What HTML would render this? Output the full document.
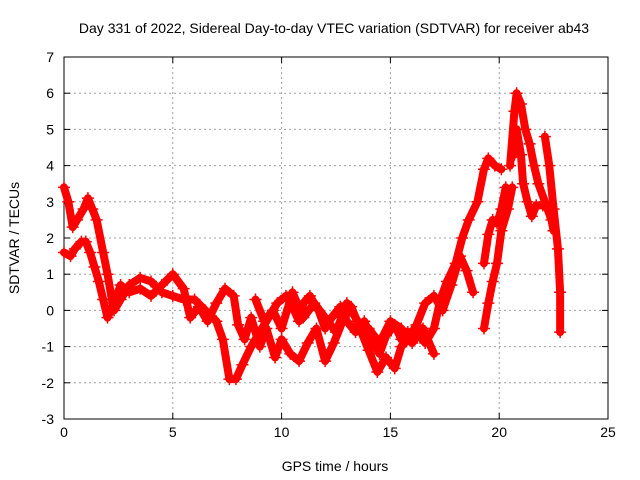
<!DOCTYPE html>
<html><head><meta charset="utf-8"><style>
body{margin:0;background:#fff;}
svg{display:block;font-family:"Liberation Sans",sans-serif;}
</style></head><body>
<svg id="chart" width="640" height="480" viewBox="0 0 640 480">
<text x="334" y="33" font-size="14" text-anchor="middle">Day 331 of 2022, Sidereal Day-to-day VTEC variation (SDTVAR) for receiver ab43</text>
<text x="335" y="471" font-size="14" text-anchor="middle">GPS time / hours</text>
<text transform="translate(19,238) rotate(-90)" font-size="14" text-anchor="middle">SDTVAR / TECUs</text>
<g id="grid"></g>
<g id="axes"></g>
<g id="series"></g>
</svg>
<script>
const xTicks=[0,5,10,15,20,25];
const yTicks=[-3,-2,-1,0,1,2,3,4,5,6,7];
const trackA=[[0,3.4],[0.2,3.0],[0.4,2.3],[0.6,2.5],[0.9,2.8],[1.1,3.1],[1.3,2.8],[1.5,2.5],[1.8,1.6],[2.0,1.0],[2.2,0.3],[2.3,0.0],[2.6,0.3],[3.0,0.7],[3.5,0.9],[4.0,0.8],[4.5,0.5],[5.0,0.4],[5.5,0.3],[6.0,0.3],[6.5,0.0],[7.0,-0.3],[7.3,-0.8],[7.6,-1.9],[7.9,-1.9],[8.2,-1.5],[8.6,-1.0],[9.0,-0.6],[9.4,-0.2],[9.8,0.2],[10.2,0.4],[10.5,0.1],[10.8,-0.3],[11.0,0.2],[11.3,0.4],[11.7,0.0],[12.0,-0.5],[12.3,-0.2],[12.7,0.1],[13.0,-0.3],[13.4,-0.6],[13.8,-0.3],[14.2,-0.9],[14.5,-1.2],[14.8,-0.7],[15.2,-0.4],[15.5,-0.8],[15.8,-0.6],[16.2,-0.6],[16.6,-0.9],[17.0,-0.5],[17.3,0.3],[17.6,0.8],[18.0,1.3],[18.3,2.0],[18.6,2.5],[19.0,3.0],[19.3,3.9],[19.5,4.2],[19.8,4.0],[20.1,3.9]];
const trackB=[[0,1.6],[0.3,1.5],[0.5,1.7],[0.8,1.9],[1.0,1.9],[1.2,1.6],[1.4,1.2],[1.6,0.8],[1.8,0.3],[2.0,-0.2],[2.3,0.2],[2.6,0.7],[3.0,0.5],[3.5,0.6],[4.0,0.4],[4.5,0.7],[5.0,1.0],[5.5,0.6],[5.8,-0.2],[6.2,0.1],[6.6,-0.3],[7.0,0.2],[7.4,0.6],[7.8,0.4],[8.0,-0.4],[8.3,-0.8],[8.6,-0.2],[9.0,-1.0],[9.3,-0.5],[9.7,-1.3],[10.0,-0.8],[10.4,-1.2],[10.8,-1.4],[11.2,-0.9],[11.6,-0.5],[12.0,-1.4],[12.4,-0.9],[12.8,-0.3],[13.2,0.1],[13.6,-0.5],[14.0,-1.1],[14.4,-1.7],[14.8,-1.3],[15.2,-1.6],[15.5,-1.0],[15.8,-0.8],[16.2,-0.4],[16.6,0.2],[17.0,0.4],[17.4,0.0],[17.8,0.7],[18.2,1.5],[18.5,1.1],[18.8,0.5]];
const trackC=[[19.3,-0.5],[19.5,0.2],[19.7,0.8],[19.9,1.3],[20.1,2.2],[20.4,2.8],[20.6,3.4]];
const trackD=[[19.3,1.3],[19.5,2.1],[19.7,2.5],[19.9,2.4],[20.1,2.8],[20.3,3.4]];
const trackE=[[20.5,4.0],[20.7,5.5],[20.8,6.0],[21.0,5.7],[21.2,5.0],[21.4,4.6],[21.6,4.0],[21.8,3.5],[22.1,3.0],[22.4,2.5],[22.5,2.2]];
const trackF=[[20.7,4.3],[20.8,5.0],[21.0,4.3],[21.1,3.5],[21.3,3.0],[21.5,2.6],[21.7,2.9],[22.0,2.9]];
const trackG=[[22.1,4.8],[22.3,4.0],[22.5,2.8],[22.7,1.7],[22.8,0.5],[22.8,-0.6]];
const trackH=[[8.8,0.3],[9.2,-0.3],[9.6,0.0],[10.0,-0.5],[10.5,0.5],[11.0,-0.2],[11.5,0.2],[12.0,-0.2],[12.5,-0.6],[13.0,0.2],[13.5,-0.3],[14.0,-0.5],[14.5,-0.9],[15.0,-0.3],[15.5,-0.5],[16.0,-0.9],[16.5,-0.5],[17.0,-1.2]];
const tracks=[trackA,trackB,trackC,trackD,trackE,trackF,trackG,trackH];

const L=64,R=608,T=57,B=419;
const xs=v=>L+(v-0)/25*(R-L);
const ys=v=>B-(v+3)/10*(B-T);
const NS="http://www.w3.org/2000/svg";
function mk(tag,attrs,parent){const e=document.createElementNS(NS,tag);for(const k in attrs)e.setAttribute(k,attrs[k]);parent.appendChild(e);return e;}
const grid=document.getElementById('grid'),axes=document.getElementById('axes'),ser=document.getElementById('series');
xTicks.forEach(t=>{const x=xs(t);
 if(t>0&&t<25){const g=mk('line',{x1:x,x2:x,y1:T,y2:B,stroke:'#a0a0a0','stroke-dasharray':'2,3'},grid);
 
 }
 mk('line',{x1:x,x2:x,y1:B,y2:B-6,stroke:'#000'},axes);mk('line',{x1:x,x2:x,y1:T,y2:T+6,stroke:'#000'},axes);
 const l=mk('text',{x:x,y:B+18,'font-size':14,'text-anchor':'middle'},axes);l.textContent=t;
 
 });
yTicks.forEach(t=>{const y=ys(t);
 if(t>-3&&t<7){const g=mk('line',{x1:L,x2:R,y1:y,y2:y,stroke:'#a0a0a0','stroke-dasharray':'2,3'},grid);
 
 }
 mk('line',{x1:L,x2:L+6,y1:y,y2:y,stroke:'#000'},axes);mk('line',{x1:R,x2:R-6,y1:y,y2:y,stroke:'#000'},axes);
 const l=mk('text',{x:L-10,y:y+5,'font-size':14,'text-anchor':'end'},axes);l.textContent=t;
 
 });
const fr=mk('rect',{x:L,y:T,width:R-L,height:B-T,fill:'none',stroke:'#000'},axes);


tracks.forEach(tr=>{
 const p=mk('polyline',{points:tr.map(d=>xs(d[0])+','+ys(d[1])).join(' '),fill:'none',stroke:'#ff0000','stroke-width':8,'stroke-linejoin':'round','stroke-linecap':'round'},ser);
 
 
 tr.forEach(d=>{const x=xs(d[0]),y=ys(d[1]);
  const m=mk('path',{d:`M${x-6},${y}H${x+6}M${x},${y-6}V${y+6}`,stroke:'#ff0000','stroke-width':1.5},ser);
  
  });
});
</script>
</body></html>
